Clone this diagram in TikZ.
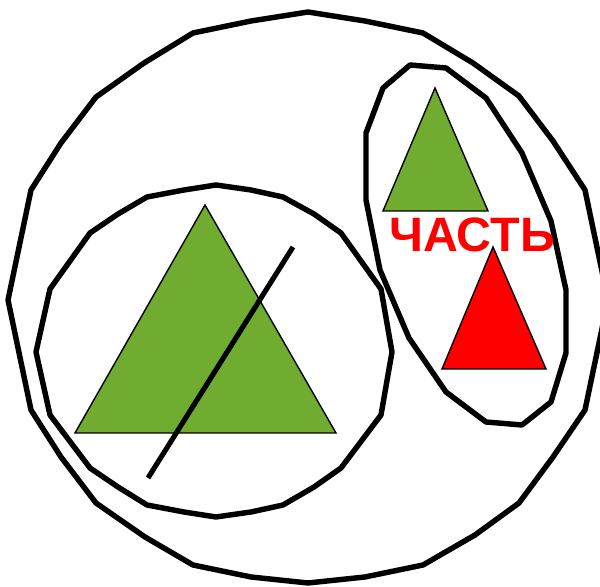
\documentclass[tikz,border=0pt]{standalone}
\usepackage{fontspec}
\newfontfamily\partfont{Liberation Sans}
\usetikzlibrary{positioning}
\definecolor{cgreen}{HTML}{6FAC30}
\definecolor{cred}{HTML}{FF0000}
\tikzset{
  outline/.style={draw=black, line width=3.1pt, line join=round},
  tri/.style={fill=#1, draw=black, line width=0.8pt, line join=miter},
  tri/.default=cgreen,
  parttext/.style={text=cred, font=\partfont\bfseries\fontsize{27.5}{32}\selectfont, inner sep=0pt, anchor=base},
}

\begin{document}
\begin{tikzpicture}[x=0.02cm, y=-0.02cm]
  \useasboundingbox (0,0) rectangle (600,587);
  % whole set
  \draw[outline] (308,12) -- (365,21) -- (423,33) -- (473,63) -- (519,96) -- (553,141) -- (585,190) -- (608,300)
    -- (585,410) -- (553,457) -- (519,503) -- (475,535) -- (423,565) -- (365,577) -- (308,583) -- (251,577)
    -- (193,565) -- (145,537) -- (96,503) -- (61,457) -- (31,410) -- (8,300) -- (31,190) -- (61,143)
    -- (96,97) -- (144,63) -- (193,33) -- (251,21) -- cycle;
  % left group
  \draw[outline] (216,185) -- (251,190) -- (283,197) -- (314,214) -- (341,233) -- (381,289) -- (392,352)
    -- (381,415) -- (341,468) -- (314,487) -- (283,505) -- (251,512) -- (216,517) -- (184,512) -- (147,505)
    -- (118,487) -- (90,468) -- (50,415) -- (36,352) -- (50,289) -- (90,233) -- (118,214) -- (147,197)
    -- (184,190) -- cycle;
  % right group
  \draw[outline] (410,65) -- (446,68) -- (486,98) -- (522,153) -- (551,221) -- (566,290) -- (566,353)
    -- (551,402) -- (522,425) -- (486,422) -- (446,392) -- (409,338) -- (380,270) -- (366,200)
    -- (366,133) -- (383,88) -- cycle;
  % triangles
  \draw[tri] (205,205) -- (336,433) -- (75,433) -- cycle;
  \draw[tri] (435,88) -- (488,211) -- (383,211) -- cycle;
  \draw[tri=cred] (493,247) -- (546,369) -- (442,369) -- cycle;
  % crossing out
  \draw[line width=2.9pt] (293,247) -- (148,478);
  \node[parttext] (part) at (472,252) {ЧАСТЬ};
\end{tikzpicture}
\end{document}
